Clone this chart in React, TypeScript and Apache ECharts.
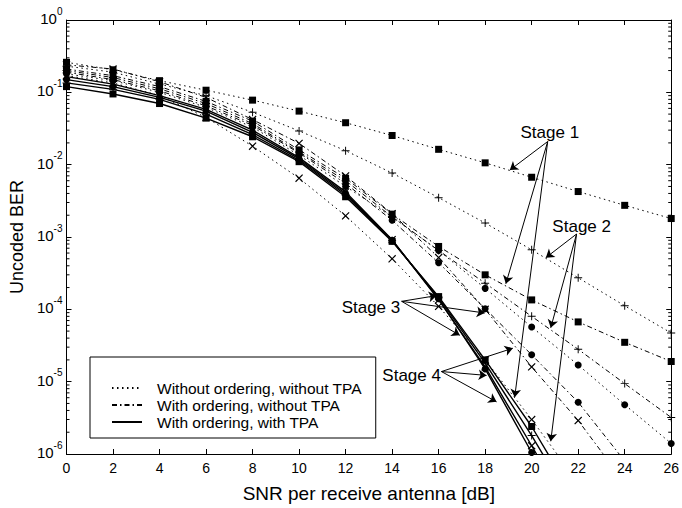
import React, { useEffect, useRef } from "react";
import * as echarts from "echarts";

// ---------- data ----------
const SNR = [0, 2, 4, 6, 8, 10, 12, 14, 16, 18, 20, 22, 24, 26];

// Without ordering, without TPA (dotted)
const dotSquare = [0.26, 0.205, 0.145, 0.107, 0.078, 0.055, 0.038, 0.0253, 0.0163, 0.0106, 0.0067, 0.00425, 0.00274, 0.0018];
const dotPlus = [0.23, 0.19, 0.13, 0.09, 0.053, 0.0293, 0.0156, 0.00766, 0.0035, 0.00156, 0.000665, 0.000273, 0.000112, 0.000047];
const dotCircle = [0.18, 0.145, 0.1, 0.062, 0.033, 0.0135, 0.005, 0.0019, 0.00065, 0.000195, 0.000057, 0.000017, 0.0000048, 0.0000014];
const dotCross = [0.17, 0.135, 0.09, 0.045, 0.018, 0.0065, 0.00196, 0.0005, 0.00011, 0.00002, 0.000003, 0.0000004, null, null];

// With ordering, without TPA (dash-dot)
const ddSquare = [0.21, 0.17, 0.12, 0.075, 0.04, 0.016, 0.0065, 0.00207, 0.00074, 0.0003, 0.000135, 0.000067, 0.000035, 0.000019];
const ddPlus = [0.2, 0.16, 0.112, 0.07, 0.037, 0.015, 0.006, 0.0019, 0.00065, 0.00023, 0.00008, 0.000028, 0.0000094, 0.0000032];
const ddCircle = [0.19, 0.15, 0.105, 0.065, 0.035, 0.0145, 0.0055, 0.0017, 0.00044, 0.000102, 0.0000235, 0.0000052, 0.0000008, null];
const ddCross = [0.24, 0.21, 0.14, 0.085, 0.042, 0.0197, 0.007, 0.0021, 0.00052, 0.0001, 0.000016, 0.0000029, 0.0000004, null];

// With ordering, with TPA (solid)
const solSquare = [0.12, 0.095, 0.07, 0.044, 0.0243, 0.011, 0.0036, 0.00087, 0.00015, 0.00002, 0.0000024, 0.0000002, null, null];
const solPlus = [0.135, 0.11, 0.08, 0.05, 0.026, 0.0115, 0.0038, 0.00089, 0.000145, 0.000018, 0.0000018, 0.00000015, null, null];
const solCircle = [0.15, 0.12, 0.085, 0.055, 0.028, 0.012, 0.004, 0.0009, 0.00014, 0.000015, 0.00000105, 0.0000001, null, null];
const solCross = [0.165, 0.13, 0.09, 0.058, 0.03, 0.0125, 0.0042, 0.00092, 0.000135, 0.000016, 0.0000013, 0.0000001, null, null];

const LEGEND_NAMES = [
  "Without ordering, without TPA",
  "With ordering, without TPA",
  "With ordering, with TPA",
];

// annotations: [fromX, fromY, toX, toY] in data units
const ARROWS = [
  [20.69, 0.0209, 19.06, 0.00841],
  [20.69, 0.0209, 18.89, 0.000226],
  [20.69, 0.0209, 19.27, 0.0000061],
  [21.93, 0.0011, 20.61, 0.000518],
  [21.93, 0.0011, 20.82, 0.0000556],
  [21.93, 0.0011, 20.82, 0.0000015],
  [14.41, 0.000129, 15.92, 0.000155],
  [14.41, 0.000129, 17.98, 0.000089],
  [14.41, 0.000129, 16.91, 0.0000437],
  [16.12, 0.0000138, 19.19, 0.000029],
  [16.12, 0.0000138, 18.06, 0.0000122],
  [16.12, 0.0000138, 18.49, 0.00000526],
];
const STAGE_LABELS = ["Stage 1", "Stage 2", "Stage 3", "Stage 4"];
const STAGE_X = [20.78, 22.15, 13.09, 14.84];
const STAGE_Y = [0.0277, 0.0014, 0.000106, 0.0000122];

const X_MIN = 0, X_MAX = 26, X_STEP = 2;
const Y_MIN = 1e-6, Y_MAX = 1;
const MINOR_MULTS = [2, 3, 4, 5, 6, 7, 8, 9];
const DECADES = [-6, -5, -4, -3, -2, -1];

const FONT = "'Liberation Sans', Arial, Helvetica, sans-serif";
const PLUS = "path://M4.4,0H5.6V4.4H10V5.6H5.6V10H4.4V5.6H0V4.4H4.4Z";
const DOTTED = [1.5, 3.5];
const DASHDOT = [5, 3, 1.5, 3];

function mk(name: string, vals: (number | null)[], type: any, width: number, symbol: string, size: number, rotate = 0, z = 2) {
  return {
    type: "line",
    name,
    data: SNR.map((x, i) => [x, vals[i]]),
    symbol,
    symbolSize: size,
    symbolRotate: rotate,
    showSymbol: true,
    connectNulls: false,
    clip: true,
    silent: true,
    z,
    lineStyle: { color: "#000", width, type },
    itemStyle: { color: "#000" },
    emphasis: { disabled: true },
  };
}

export default function App() {
  const ref = useRef<HTMLDivElement>(null);
  useEffect(() => {
    if (!ref.current) return;
    const chart = echarts.init(ref.current, undefined, { renderer: "svg" });
    const minor: number[][] = [];
    DECADES.forEach((e) => MINOR_MULTS.forEach((m) => minor.push([0, m * Math.pow(10, e)])));

    const sq = "rect", ci = "circle";
    const series: any[] = [
      mk("dotS", dotSquare, DOTTED, 1, sq, 7),
      mk("dotP", dotPlus, DOTTED, 1, PLUS, 8),
      mk("dotC", dotCircle, DOTTED, 1, ci, 7),
      mk("dotX", dotCross, DOTTED, 1, PLUS, 10, 45),
      mk("ddS", ddSquare, DASHDOT, 1, sq, 7),
      mk("ddP", ddPlus, DASHDOT, 1, PLUS, 8),
      mk("ddC", ddCircle, DASHDOT, 1, ci, 7),
      mk("ddX", ddCross, DASHDOT, 1, PLUS, 10, 45),
      mk("solS", solSquare, "solid", 1.4, sq, 7, 0, 3),
      mk("solP", solPlus, "solid", 1.4, PLUS, 8, 0, 3),
      mk("solC", solCircle, "solid", 1.4, ci, 7, 0, 3),
      mk("solX", solCross, "solid", 1.4, PLUS, 10, 45, 3),
      { type: "line", name: LEGEND_NAMES[0], data: [], symbol: "none", lineStyle: { color: "#000", width: 1, type: DOTTED }, itemStyle: { color: "#000" } },
      { type: "line", name: LEGEND_NAMES[1], data: [], symbol: "none", lineStyle: { color: "#000", width: 1, type: DASHDOT }, itemStyle: { color: "#000" } },
      { type: "line", name: LEGEND_NAMES[2], data: [], symbol: "none", lineStyle: { color: "#000", width: 1.6, type: "solid" }, itemStyle: { color: "#000" } },
      {
        type: "custom",
        name: "minorTicks",
        silent: true,
        data: minor,
        encode: { x: 0, y: 1 },
        renderItem: (params: any, api: any) => {
          const y = api.coord([0, api.value(1)])[1];
          const cs = params.coordSys;
          return {
            type: "group",
            children: [
              { type: "line", shape: { x1: cs.x, y1: y, x2: cs.x + 3, y2: y }, style: { stroke: "#000", lineWidth: 1 } },
              { type: "line", shape: { x1: cs.x + cs.width - 3, y1: y, x2: cs.x + cs.width, y2: y }, style: { stroke: "#000", lineWidth: 1 } },
            ],
          };
        },
      },
      {
        type: "line",
        name: "annotations",
        data: [],
        silent: true,
        z: 5,
        markLine: {
          silent: true,
          animation: false,
          symbol: ["none", "arrow"],
          symbolSize: 8,
          label: { show: false },
          lineStyle: { color: "#000", width: 1, type: "solid" },
          emphasis: { disabled: true },
          data: ARROWS.map((a) => [{ coord: [a[0], a[1]] }, { coord: [a[2], a[3]] }]),
        },
        markPoint: {
          silent: true,
          animation: false,
          symbol: "rect",
          symbolSize: 1,
          itemStyle: { color: "rgba(0,0,0,0)" },
          label: { show: true, position: "inside", color: "#000", fontSize: 17, fontFamily: FONT, formatter: (p: any) => p.name },
          data: STAGE_LABELS.map((t, i) => ({ name: t, coord: [STAGE_X[i], STAGE_Y[i]] })),
        },
      },
    ];

    chart.setOption({
      animation: false,
      backgroundColor: "#fff",
      textStyle: { fontFamily: FONT },
      grid: { left: 66.5, right: 10.5, top: 20, bottom: 48.5, containLabel: false },
      legend: {
        data: LEGEND_NAMES,
        orient: "vertical",
        left: 90,
        top: 357,
        padding: [23, 14, 8, 21],
        itemGap: 1,
        itemWidth: 30,
        itemHeight: 15,
        borderColor: "#000",
        borderWidth: 1,
        backgroundColor: "#fff",
        selectedMode: false,
        itemStyle: { opacity: 0 },
        textStyle: { fontSize: 15.5, lineHeight: 15, color: "#000", fontFamily: FONT, padding: [0, 0, 0, 10] },
      },
      xAxis: [
        {
          type: "value",
          min: X_MIN,
          max: X_MAX,
          interval: X_STEP,
          name: "SNR per receive antenna [dB]",
          nameLocation: "middle",
          nameGap: 30,
          nameTextStyle: { fontSize: 19, color: "#000", fontFamily: FONT },
          axisLine: { show: true, onZero: false, lineStyle: { color: "#000", width: 1 } },
          axisTick: { show: true, inside: true, length: 5, lineStyle: { color: "#000" } },
          axisLabel: { show: true, color: "#000", fontSize: 14, margin: 7, fontFamily: FONT },
          splitLine: { show: false },
        },
        {
          type: "value",
          position: "top",
          min: X_MIN,
          max: X_MAX,
          interval: X_STEP,
          axisLine: { show: true, onZero: false, lineStyle: { color: "#000", width: 1 } },
          axisTick: { show: true, inside: true, length: 5, lineStyle: { color: "#000" } },
          axisLabel: { show: false },
          splitLine: { show: false },
        },
      ],
      yAxis: [
        {
          type: "log",
          logBase: 10,
          min: Y_MIN,
          max: Y_MAX,
          name: "Uncoded BER",
          nameLocation: "middle",
          nameGap: 39,
          nameRotate: 90,
          nameTextStyle: { fontSize: 18, color: "#000", fontFamily: FONT },
          axisLine: { show: true, onZero: false, lineStyle: { color: "#000", width: 1 } },
          axisTick: { show: true, inside: true, length: 5, lineStyle: { color: "#000" } },
          axisLabel: {
            show: true,
            margin: 4,
            verticalAlign: "middle",
            padding: [0, 0, 8, 0],
            formatter: (v: number) => `{b|10}{s|${Math.round(Math.log10(v))}}`,
            rich: {
              b: { fontSize: 15, color: "#000", fontFamily: FONT, lineHeight: 20, verticalAlign: "bottom" },
              s: { fontSize: 10, color: "#000", fontFamily: FONT, lineHeight: 20, verticalAlign: "top" },
            },
          },
          splitLine: { show: false },
        },
        {
          type: "log",
          logBase: 10,
          position: "right",
          min: Y_MIN,
          max: Y_MAX,
          axisLine: { show: true, onZero: false, lineStyle: { color: "#000", width: 1 } },
          axisTick: { show: true, inside: true, length: 5, lineStyle: { color: "#000" } },
          axisLabel: { show: false },
          splitLine: { show: false },
        },
      ],
      series,
    });
    return () => chart.dispose();
  }, []);
  return <div ref={ref} style={{ position: "fixed", left: 0, top: 0, width: 682, height: 508, background: "#fff" }} />;
}
